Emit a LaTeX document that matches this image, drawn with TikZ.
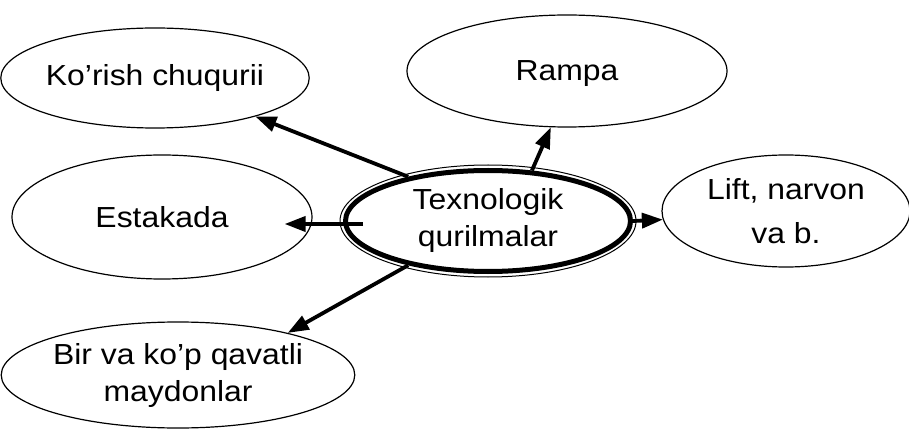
\documentclass[tikz,border=0pt]{standalone}
\usepackage{fontspec}
\setmainfont{Liberation Sans}[FakeStretch=1.1]
\usetikzlibrary{shapes.geometric,arrows.meta}
\begin{document}
\begin{tikzpicture}[x=1pt,y=-1pt,
  bub/.style={ellipse,draw,line width=1.2pt,inner sep=0pt,align=center,
    font=\fontsize{29}{37}\selectfont},
  arr/.style={line width=3.8pt,-{Triangle[length=21pt,width=15pt]}}]
\useasboundingbox[fill=white] (0,0) rectangle (909,430);
\node[bub,minimum width=286,minimum height=100] (k) at (155,78) {Ko’rish chuqurii};
\node[bub,minimum width=320,minimum height=112,text height=20pt,text depth=0pt] (r) at (567,71) {Rampa};
\node[bub,minimum width=248,minimum height=112] (l) at (786,211) {Lift, narvon\\[7pt]va b.};
\node[bub,minimum width=300,minimum height=124] (e) at (162,217) {Estakada};
\node[bub,minimum width=304,minimum height=106] (b) at (178,375) {Bir va ko’p qavatli\\maydonlar};
\node[bub,line width=5pt,minimum width=285,minimum height=101] (c) at (488,221) {Texnologik\\qurilmalar};
\draw[line width=1pt] (c.center) ellipse [x radius=148,y radius=56];
\draw[arr] (c.151) -- (k.-21);
\draw[arr] (c.49) -- (r.-106);
\draw[arr] (c.east) -- (l.184);
\draw[arr] ([xshift=20pt,yshift=-3pt]c.west) -- ([xshift=-28pt,yshift=-7pt]e.east);
\draw[arr] (c.209) -- (b.21);
\end{tikzpicture}
\end{document}
